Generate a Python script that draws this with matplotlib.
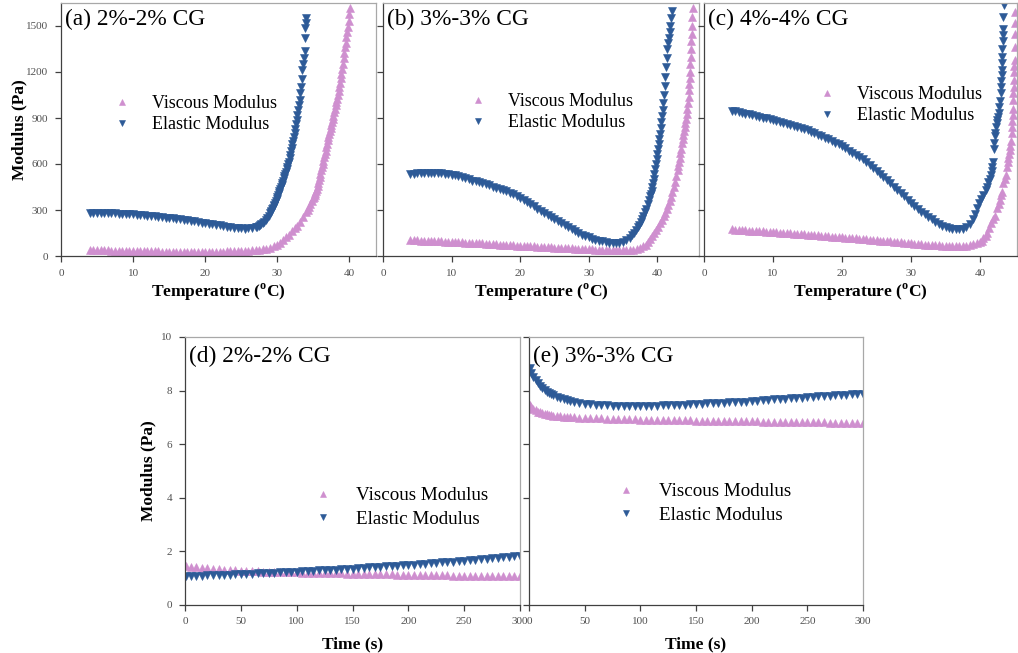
import matplotlib
matplotlib.use("Agg")
import matplotlib.pyplot as plt

plt.rcParams['font.family'] = ['Liberation Serif', 'DejaVu Serif']
plt.rcParams['mathtext.fontset'] = 'custom'
plt.rcParams['mathtext.rm'] = 'Liberation Serif'
plt.rcParams['mathtext.bf'] = 'Liberation Serif:bold'

# ---- data: (temperature degC or time s, modulus Pa) ----
a_elastic = [(4.0, 282), (4.5, 282), (5.0, 281), (5.5, 281), (6.0, 280), (6.5, 280), (7.0, 279), (7.5, 278),
             (8.0, 277), (8.5, 276), (9.0, 275), (9.5, 273), (10.0, 272), (10.5, 270), (11.0, 268), (11.5, 266),
             (12.0, 264), (12.5, 262), (13.0, 259), (13.5, 257), (14.0, 254), (14.5, 251), (15.0, 248), (15.5, 245),
             (16.0, 242), (16.5, 239), (17.0, 236), (17.5, 232), (18.0, 229), (18.5, 226), (19.0, 222), (19.5, 218),
             (20.0, 215), (20.5, 211), (21.0, 207), (21.5, 203), (22.0, 199), (22.5, 195), (23.0, 191), (23.5, 187),
             (24.0, 184), (24.5, 182), (25.0, 180), (25.5, 179), (26.0, 180), (26.5, 182), (27.0, 186), (27.2, 189),
             (27.4, 193), (27.6, 199), (27.8, 207), (28.0, 215), (28.2, 225), (28.4, 236), (28.6, 248), (28.8, 262),
             (29.0, 278), (29.1, 286), (29.2, 295), (29.3, 304), (29.4, 314), (29.5, 324), (29.6, 335), (29.7, 346),
             (29.8, 358), (29.9, 370), (30.0, 383), (30.1, 396), (30.2, 409), (30.3, 422), (30.4, 436), (30.5, 450),
             (30.6, 464), (30.7, 478), (30.8, 492), (30.9, 506), (31.0, 520), (31.1, 535), (31.2, 550), (31.3, 566),
             (31.4, 582), (31.5, 598), (31.6, 615), (31.7, 638), (31.8, 660), (31.9, 682), (32.0, 705), (32.1, 728),
             (32.2, 752), (32.3, 777), (32.4, 803), (32.5, 830), (32.6, 858), (32.7, 887), (32.8, 918), (32.9, 950),
             (33.0, 984), (33.1, 1020), (33.2, 1060), (33.3, 1105), (33.4, 1155), (33.5, 1210), (33.6, 1255),
             (33.7, 1290), (33.8, 1340), (33.85, 1420), (33.9, 1490), (33.95, 1520), (34.0, 1555)]
a_viscous = [(4.0, 38), (4.5, 38), (5.0, 37), (5.5, 37), (6.0, 36), (6.5, 36), (7.0, 35), (7.5, 35), (8.0, 34),
             (8.5, 34), (9.0, 33), (9.5, 33), (10.0, 32), (10.5, 32), (11.0, 31), (11.5, 31), (12.0, 31), (12.5, 30),
             (13.0, 30), (13.5, 30), (14.0, 29), (14.5, 29), (15.0, 29), (15.5, 29), (16.0, 28), (16.5, 28),
             (17.0, 28), (17.5, 28), (18.0, 28), (18.5, 28), (19.0, 28), (19.5, 28), (20.0, 28), (20.5, 28),
             (21.0, 28), (21.5, 29), (22.0, 29), (22.5, 29), (23.0, 30), (23.5, 30), (24.0, 31), (24.5, 32),
             (25.0, 33), (25.5, 34), (26.0, 35), (26.5, 37), (27.0, 39), (27.5, 41), (28.0, 43), (28.5, 45),
             (29.0, 52), (29.5, 62), (30.0, 72), (30.4, 88), (30.8, 105), (31.2, 122), (31.6, 140), (32.0, 160),
             (32.4, 180), (32.8, 198), (33.2, 225), (33.6, 255), (34.0, 285), (34.2, 302), (34.4, 320), (34.6, 338),
             (34.8, 356), (35.0, 376), (35.1, 386), (35.2, 397), (35.3, 410), (35.4, 424), (35.5, 440), (35.6, 458),
             (35.7, 478), (35.8, 498), (35.9, 518), (36.0, 538), (36.1, 558), (36.2, 578), (36.3, 600), (36.4, 622),
             (36.5, 644), (36.6, 666), (36.7, 688), (36.8, 710), (36.9, 732), (37.0, 754), (37.1, 774), (37.2, 794),
             (37.3, 814), (37.4, 834), (37.5, 854), (37.6, 874), (37.7, 894), (37.8, 916), (37.9, 938), (38.0, 960),
             (38.1, 982), (38.2, 1004), (38.3, 1026), (38.4, 1050), (38.5, 1075), (38.6, 1100), (38.7, 1128),
             (38.8, 1158), (38.9, 1190), (39.0, 1222), (39.1, 1255), (39.2, 1290), (39.3, 1325), (39.4, 1360),
             (39.5, 1392), (39.6, 1425), (39.7, 1458), (39.8, 1495), (39.9, 1535), (40.0, 1575), (40.1, 1615)]

b_elastic = [(4.0, 533), (4.5, 537), (5.0, 540), (5.5, 542), (6.0, 543), (6.5, 544), (7.0, 544), (7.5, 543),
             (8.0, 541), (8.5, 539), (9.0, 536), (9.5, 533), (10.0, 529), (10.5, 525), (11.0, 520), (11.5, 514),
             (12.0, 508), (12.5, 500), (13.0, 492), (13.5, 486), (14.0, 480), (14.5, 474), (15.0, 467), (15.5, 460),
             (16.0, 453), (16.5, 446), (17.0, 439), (17.5, 432), (18.0, 424), (18.5, 414), (19.0, 403), (19.5, 391),
             (20.0, 378), (20.5, 365), (21.0, 351), (21.5, 337), (22.0, 323), (22.5, 309), (23.0, 295), (23.5, 282),
             (24.0, 269), (24.5, 256), (25.0, 243), (25.5, 230), (26.0, 216), (26.5, 203), (27.0, 189), (27.5, 176),
             (28.0, 164), (28.5, 152), (29.0, 140), (29.5, 130), (30.0, 121), (30.5, 113), (31.0, 105), (31.5, 99),
             (32.0, 95), (32.5, 91), (33.0, 87), (33.5, 85), (34.0, 84), (34.5, 86), (35.0, 92), (35.5, 103),
             (36.0, 120), (36.3, 135), (36.6, 150), (36.9, 168), (37.2, 188), (37.4, 204), (37.6, 221), (37.8, 240),
             (38.0, 261), (38.2, 284), (38.4, 309), (38.6, 336), (38.8, 365), (39.0, 390), (39.1, 405), (39.2, 425),
             (39.3, 450), (39.4, 475), (39.5, 505), (39.6, 535), (39.7, 565), (39.8, 597), (39.9, 630), (40.0, 663),
             (40.1, 696), (40.2, 728), (40.3, 760), (40.4, 795), (40.5, 835), (40.6, 875), (40.7, 915), (40.8, 955),
             (40.9, 1000), (41.0, 1050), (41.1, 1110), (41.2, 1170), (41.3, 1230), (41.4, 1290), (41.5, 1350),
             (41.6, 1390), (41.7, 1420), (41.8, 1460), (41.9, 1500), (42.0, 1550), (42.1, 1595)]
b_viscous = [(4.0, 104), (4.5, 103), (5.0, 102), (5.5, 101), (6.0, 100), (6.5, 99), (7.0, 98), (7.5, 97), (8.0, 96),
             (8.5, 95), (9.0, 94), (9.5, 93), (10.0, 92), (10.5, 91), (11.0, 90), (11.5, 89), (12.0, 88), (12.5, 87),
             (13.0, 86), (13.5, 85), (14.0, 83), (14.5, 82), (15.0, 81), (15.5, 79), (16.0, 78), (16.5, 77),
             (17.0, 75), (17.5, 74), (18.0, 72), (18.5, 71), (19.0, 70), (19.5, 68), (20.0, 67), (20.5, 66),
             (21.0, 64), (21.5, 63), (22.0, 62), (22.5, 61), (23.0, 60), (23.5, 58), (24.0, 57), (24.5, 56),
             (25.0, 55), (25.5, 54), (26.0, 52), (26.5, 51), (27.0, 50), (27.5, 49), (28.0, 48), (28.5, 47),
             (29.0, 46), (29.5, 45), (30.0, 44), (30.5, 43), (31.0, 42), (31.5, 41), (32.0, 40), (32.5, 40),
             (33.0, 39), (33.5, 39), (34.0, 38), (34.5, 38), (35.0, 38), (35.5, 39), (36.0, 40), (36.5, 42),
             (37.0, 45), (37.5, 52), (38.0, 62), (38.3, 72), (38.6, 90), (38.9, 110), (39.2, 130), (39.5, 150),
             (39.8, 168), (40.1, 190), (40.4, 212), (40.7, 235), (41.0, 262), (41.2, 282), (41.4, 305), (41.6, 330),
             (41.8, 358), (42.0, 385), (42.2, 415), (42.4, 448), (42.6, 483), (42.8, 520), (43.0, 560), (43.1, 585),
             (43.2, 612), (43.3, 640), (43.4, 670), (43.5, 700), (43.6, 735), (43.7, 765), (43.8, 790), (43.9, 815),
             (44.0, 840), (44.1, 866), (44.2, 895), (44.3, 925), (44.4, 960), (44.5, 1000), (44.6, 1040),
             (44.65, 1080), (44.7, 1120), (44.75, 1160), (44.8, 1200), (44.85, 1250), (44.9, 1300), (44.95, 1350),
             (45.0, 1400), (45.05, 1450), (45.1, 1500), (45.15, 1560), (45.2, 1615)]

c_elastic = [(4.0, 948), (4.5, 944), (5.0, 939), (5.5, 934), (6.0, 929), (6.5, 924), (7.0, 918), (7.5, 913),
             (8.0, 908), (8.5, 903), (9.0, 898), (9.5, 893), (10.0, 888), (10.5, 882), (11.0, 875), (11.5, 869),
             (12.0, 862), (12.5, 856), (13.0, 849), (13.5, 842), (14.0, 834), (14.5, 827), (15.0, 820), (15.5, 810),
             (16.0, 800), (16.5, 790), (17.0, 780), (17.5, 770), (18.0, 760), (18.5, 749), (19.0, 738), (19.5, 728),
             (20.0, 716), (20.5, 702), (21.0, 688), (21.5, 674), (22.0, 659), (22.5, 645), (23.0, 630), (23.5, 612),
             (24.0, 593), (24.5, 573), (25.0, 553), (25.5, 533), (26.0, 514), (26.5, 494), (27.0, 475), (27.5, 453),
             (28.0, 432), (28.5, 410), (29.0, 389), (29.5, 367), (30.0, 346), (30.5, 325), (31.0, 305), (31.5, 288),
             (32.0, 272), (32.5, 256), (33.0, 240), (33.5, 225), (34.0, 210), (34.5, 198), (35.0, 190), (35.5, 183),
             (36.0, 178), (36.5, 175), (37.0, 174), (37.5, 178), (38.0, 190), (38.5, 208), (39.0, 240), (39.3, 275),
             (39.6, 310), (39.9, 345), (40.2, 372), (40.5, 400), (40.8, 430), (41.0, 452), (41.2, 480), (41.4, 505),
             (41.6, 530), (41.7, 555), (41.8, 580), (41.9, 610), (42.0, 700), (42.05, 740), (42.1, 780), (42.2, 800),
             (42.3, 840), (42.4, 870), (42.5, 890), (42.6, 905), (42.7, 930), (42.8, 970), (42.9, 1010), (43.0, 1060),
             (43.05, 1100), (43.1, 1140), (43.15, 1180), (43.2, 1215), (43.2, 1260), (43.25, 1300), (43.25, 1350),
             (43.3, 1400), (43.3, 1440), (43.35, 1480), (43.4, 1560), (43.45, 1640)]
c_viscous = [(4.0, 174), (4.5, 172), (5.0, 171), (5.5, 169), (6.0, 168), (6.5, 166), (7.0, 165), (7.5, 163),
             (8.0, 162), (8.5, 160), (9.0, 159), (9.5, 157), (10.0, 156), (10.5, 154), (11.0, 153), (11.5, 151),
             (12.0, 150), (12.5, 148), (13.0, 146), (13.5, 145), (14.0, 143), (14.5, 141), (15.0, 139), (15.5, 138),
             (16.0, 136), (16.5, 134), (17.0, 132), (17.5, 131), (18.0, 129), (18.5, 127), (19.0, 125), (19.5, 124),
             (20.0, 122), (20.5, 120), (21.0, 118), (21.5, 117), (22.0, 115), (22.5, 113), (23.0, 111), (23.5, 109),
             (24.0, 107), (24.5, 105), (25.0, 103), (25.5, 101), (26.0, 99), (26.5, 97), (27.0, 95), (27.5, 93),
             (28.0, 91), (28.5, 89), (29.0, 87), (29.5, 85), (30.0, 83), (30.5, 81), (31.0, 79), (31.5, 77),
             (32.0, 75), (32.5, 74), (33.0, 72), (33.5, 71), (34.0, 70), (34.5, 68), (35.0, 67), (35.5, 66),
             (36.0, 65), (36.5, 65), (37.0, 65), (37.5, 66), (38.0, 68), (38.5, 71), (39.0, 76), (39.5, 83),
             (40.0, 90), (40.3, 100), (40.5, 115), (40.8, 132), (41.0, 150), (41.3, 185), (41.6, 215), (41.9, 240),
             (42.2, 260), (42.5, 310), (42.7, 340), (42.9, 366), (43.05, 395), (43.2, 420), (43.4, 475),
             (43.55, 500), (43.7, 530), (43.9, 583), (44.0, 610), (44.1, 640), (44.2, 665), (44.3, 692), (44.4, 720),
             (44.5, 750), (44.6, 800), (44.65, 840), (44.7, 880), (44.75, 920), (44.8, 960), (44.8, 1020),
             (44.85, 1060), (44.9, 1100), (44.9, 1150), (44.9, 1200), (44.95, 1240), (45.0, 1280), (45.0, 1360),
             (45.0, 1450), (45.0, 1520), (45.0, 1590)]

d_time = [1, 5, 10, 15, 20, 25, 30, 35, 40, 45, 50, 55, 60, 65, 70, 75, 80, 85, 90, 95, 100, 105, 110, 115, 120,
          125, 130, 135, 140, 145, 150, 155, 160, 165, 170, 175, 180, 185, 190, 195, 200, 205, 210, 215, 220, 225,
          230, 235, 240, 245, 250, 255, 260, 265, 270, 275, 280, 285, 290, 295, 300]
d_elastic = [1.10, 1.10, 1.10, 1.10, 1.11, 1.11, 1.12, 1.12, 1.13, 1.14, 1.15, 1.16, 1.17, 1.18, 1.19, 1.20, 1.21,
             1.22, 1.23, 1.24, 1.25, 1.26, 1.27, 1.28, 1.29, 1.30, 1.31, 1.32, 1.34, 1.35, 1.36, 1.37, 1.39, 1.40,
             1.41, 1.43, 1.44, 1.45, 1.47, 1.48, 1.50, 1.51, 1.53, 1.54, 1.56, 1.57, 1.59, 1.60, 1.62, 1.64, 1.65,
             1.67, 1.69, 1.70, 1.72, 1.74, 1.76, 1.78, 1.80, 1.82, 1.84]
d_viscous = [1.46, 1.43, 1.41, 1.39, 1.37, 1.35, 1.33, 1.32, 1.30, 1.29, 1.28, 1.27, 1.26, 1.26, 1.25, 1.24, 1.24,
             1.23, 1.23, 1.22, 1.22, 1.21, 1.21, 1.20, 1.20, 1.19, 1.19, 1.18, 1.18, 1.17, 1.17, 1.16, 1.16, 1.15,
             1.15, 1.14, 1.14, 1.14, 1.13, 1.13, 1.13, 1.12, 1.12, 1.12, 1.11, 1.11, 1.11, 1.11, 1.10, 1.10, 1.10,
             1.10, 1.10, 1.09, 1.09, 1.09, 1.09, 1.09, 1.09, 1.09, 1.09]

e_time = [1, 2, 4, 6, 8, 10, 12, 14, 16, 18, 20, 22, 25, 28, 31, 34, 37, 40, 45, 50, 55, 60, 65, 70, 75, 80, 85,
          90, 95, 100, 105, 110, 115, 120, 125, 130, 135, 140, 145, 150, 155, 160, 165, 170, 175, 180, 185, 190,
          195, 200, 205, 210, 215, 220, 225, 230, 235, 240, 245, 250, 255, 260, 265, 270, 275, 280, 285, 290, 295,
          300]
e_elastic = [8.85, 8.65, 8.50, 8.38, 8.27, 8.17, 8.09, 8.02, 7.96, 7.91, 7.86, 7.82, 7.77, 7.72, 7.68, 7.64, 7.61,
             7.58, 7.54, 7.51, 7.49, 7.47, 7.46, 7.45, 7.44, 7.43, 7.43, 7.43, 7.43, 7.43, 7.43, 7.44, 7.44, 7.45,
             7.45, 7.46, 7.47, 7.48, 7.49, 7.50, 7.51, 7.52, 7.53, 7.54, 7.55, 7.56, 7.57, 7.58, 7.59, 7.61, 7.62,
             7.64, 7.65, 7.67, 7.68, 7.70, 7.71, 7.73, 7.74, 7.76, 7.77, 7.79, 7.80, 7.81, 7.82, 7.83, 7.85, 7.86,
             7.87, 7.88]
e_viscous = [7.48, 7.40, 7.33, 7.27, 7.22, 7.19, 7.16, 7.13, 7.11, 7.09, 7.08, 7.06, 7.05, 7.04, 7.03, 7.02, 7.01,
             7.00, 6.99, 6.98, 6.97, 6.96, 6.96, 6.95, 6.95, 6.94, 6.94, 6.93, 6.93, 6.92, 6.92, 6.91, 6.91, 6.90,
             6.90, 6.90, 6.89, 6.89, 6.89, 6.88, 6.88, 6.88, 6.87, 6.87, 6.87, 6.86, 6.86, 6.86, 6.85, 6.85, 6.85,
             6.84, 6.84, 6.84, 6.83, 6.83, 6.83, 6.82, 6.82, 6.82, 6.81, 6.81, 6.81, 6.80, 6.80, 6.80, 6.80, 6.79,
             6.79, 6.79]

titles = ['(a) 2%-2% CG', '(b) 3%-3% CG', '(c) 4%-4% CG', '(d) 2%-2% CG', '(e) 3%-3% CG']
legend_labels = ['Viscous Modulus', 'Elastic Modulus']

PINK = '#cf8fcf'
BLUE = '#2d5a97'
W, H = 1018, 653


def rect(x0, y0, x1, y1):
    # pixel box -> figure fraction
    return [x0 / W, 1 - y1 / H, (x1 - x0) / W, (y1 - y0) / H]


def style_axes(ax, show_ylabels):
    for side in ['left', 'bottom']:
        ax.spines[side].set_color('#404040')
        ax.spines[side].set_linewidth(0.9)
    for side in ['top', 'right']:
        ax.spines[side].set_color('#a8a8a8')
        ax.spines[side].set_linewidth(0.9)
    ax.tick_params(direction='out', length=4, width=0.9, color='#404040',
                   labelsize=8, labelcolor='#505050', pad=5)
    if not show_ylabels:
        ax.tick_params(axis='y', labelleft=False)


def draw(ax, vx, vy, ex, ey, ms):
    ax.plot(vx, vy, linestyle='none', marker='^', ms=ms, mew=0.4, color=PINK, label=legend_labels[0])
    ax.plot(ex, ey, linestyle='none', marker='v', ms=ms, mew=0.4, color=BLUE, label=legend_labels[1])


def add_legend(ax, x_px, y_px, size, spacing, textpad):
    ax.legend(loc='upper left', bbox_to_anchor=(x_px / W, 1 - y_px / H), bbox_transform=fig.transFigure,
              frameon=False, borderpad=0, borderaxespad=0, handlelength=1.0, handletextpad=textpad,
              labelspacing=spacing, markerscale=0.75, fontsize=size)


fig = plt.figure(figsize=(W / 100, H / 100), dpi=100)

top = [
    (rect(61, 3, 376, 256), 43.7, a_viscous, a_elastic, True, (113, 95)),
    (rect(383, 3, 699, 256), 46.1, b_viscous, b_elastic, False, (469, 93)),
    (rect(704, 3, 1017, 256), 45.36, c_viscous, c_elastic, False, (818, 86)),
]
temp_label = r'Temperature ($^{\mathbf{o}}$C)'
for i, (r, xmax, visc, elas, ylab, leg) in enumerate(top):
    ax = fig.add_axes(r)
    vx, vy = zip(*visc)
    ex, ey = zip(*elas)
    draw(ax, vx, vy, ex, ey, 5.2)
    ax.set_xlim(0, xmax)
    ax.set_ylim(0, 1650)
    ax.set_xticks([0, 10, 20, 30, 40])
    ax.set_yticks([0, 300, 600, 900, 1200, 1500])
    style_axes(ax, ylab)
    ax.set_xlabel(temp_label, fontsize=12.5, fontweight='bold', labelpad=3)
    if ylab:
        ax.set_ylabel('Modulus (Pa)', fontsize=12.5, fontweight='bold')
        ax.yaxis.set_label_coords(-0.108, 0.5)
    ax.text(0.012, 0.978, titles[i], transform=ax.transAxes, ha='left', va='top', fontsize=16.8)
    add_legend(ax, leg[0], leg[1], 13, 0.22, 1.15)

bottom = [
    (rect(185, 337, 520, 605), d_time, d_viscous, d_elastic, True, (313, 487)),
    (rect(529, 337, 863, 605), e_time, e_viscous, e_elastic, False, (616, 483)),
]
for j, (r, t, visc, elas, ylab, leg) in enumerate(bottom):
    ax = fig.add_axes(r)
    draw(ax, t, visc, t, elas, 6.0)
    ax.set_xlim(0, 300)
    ax.set_ylim(0, 10)
    ax.set_xticks([0, 50, 100, 150, 200, 250, 300])
    ax.set_yticks([0, 2, 4, 6, 8, 10])
    style_axes(ax, ylab)
    ax.set_xlabel('Time (s)', fontsize=12.5, fontweight='bold', labelpad=7)
    if ylab:
        ax.set_ylabel('Modulus (Pa)', fontsize=12.5, fontweight='bold')
        ax.yaxis.set_label_coords(-0.084, 0.5)
    ax.text(0.012, 0.968, titles[3 + j], transform=ax.transAxes, ha='left', va='top', fontsize=16.8)
    add_legend(ax, leg[0], leg[1], 13.7, 0.31, 1.24)

fig.savefig('out.png', dpi=100)
